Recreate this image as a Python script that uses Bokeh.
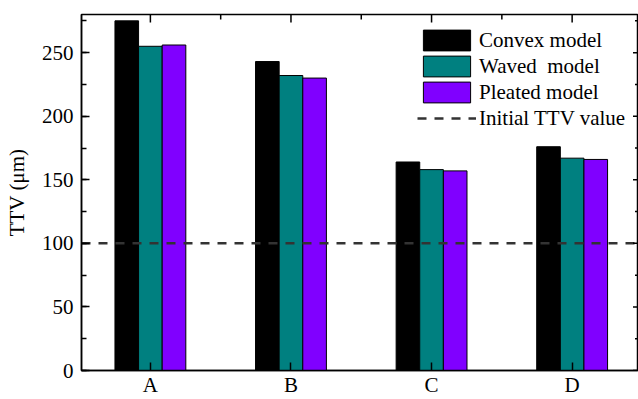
import numpy as np
from bokeh.plotting import figure
from bokeh.models import (Range1d, FixedTicker, SingleIntervalTicker, Legend, LegendItem)
from bokeh.embed import file_html
from bokeh.resources import INLINE

categories = ["A", "B", "C", "D"]
series_names = ["Convex model", "Waved  model", "Pleated model"]
convex = [275, 243, 164, 176]
waved = [255, 232, 158, 167]
pleated = [256, 230, 157, 166]
initial_ttv = 100
line_name = "Initial TTV value"
y_label = "TTV (\u03bcm)"
y_ticks = [0, 50, 100, 150, 200, 250]
colors = ["#000000", "#008080", "#8000ff"]

FONT = "Liberation Serif"
FS = "21px"

xs = np.arange(len(categories))
bar_w = 0.168
offsets = [-bar_w, 0.0, bar_w]
x_start, x_end = -0.49, 3.472
y_start, y_end = 0, 280

p = figure(width=638, height=399, output_backend="svg", toolbar_location=None,
           x_range=Range1d(x_start, x_end), y_range=Range1d(y_start, y_end),
           min_border_left=81, min_border_right=0, min_border_top=14,
           min_border_bottom=28)
p.xgrid.visible = False
p.ygrid.visible = False
p.outline_line_color = "black"
p.outline_line_width = 1.5
p.background_fill_color = "white"
p.border_fill_color = "white"

# bars
renderers = []
for vals, col, off in zip([convex, waved, pleated], colors, offsets):
    r = p.vbar(x=xs + off, top=vals, width=bar_w, fill_color=col,
               line_color="black", line_width=1)
    renderers.append(r)

# initial TTV reference line across the frame
ref_line = p.line(x=[x_start, x_end], y=[initial_ttv, initial_ttv],
                  line_color="#333333", line_width=2.5, line_dash="9 8")

# tick marks on top and right frame edges (inward)
minor_x = list(xs[:-1] + 0.5)
p.scatter(x=list(xs), y=[y_end] * len(xs), marker="dash", angle=np.pi / 2,
          size=16, line_color="black", line_width=1.5)
p.scatter(x=minor_x, y=[y_end] * len(minor_x), marker="dash", angle=np.pi / 2,
          size=10, line_color="black", line_width=1.5)
minor_y = [t + 25 for t in y_ticks]
p.scatter(x=[x_end] * len(y_ticks), y=y_ticks, marker="dash",
          size=11, line_color="black", line_width=1.5)
p.scatter(x=[x_end] * len(minor_y), y=minor_y, marker="dash",
          size=7, line_color="black", line_width=1.5)

# axes styling
def style_axis(ax):
    ax.axis_line_color = "black"
    ax.axis_line_width = 1.5
    ax.major_tick_line_color = "black"
    ax.minor_tick_line_color = "black"
    ax.major_tick_line_width = 1.5
    ax.minor_tick_line_width = 1.5
    ax.major_tick_in = 8
    ax.major_tick_out = 0
    ax.minor_tick_in = 5
    ax.minor_tick_out = 0
    ax.major_label_text_font = FONT
    ax.major_label_text_font_size = FS
    ax.major_label_text_color = "black"

xa = p.xaxis[0]
style_axis(xa)
xa.ticker = FixedTicker(ticks=list(xs), minor_ticks=[])
xa.major_label_overrides = {int(i): c for i, c in zip(xs, categories)}
xa.major_label_standoff = 2

ya = p.yaxis[0]
style_axis(ya)
ya.ticker = SingleIntervalTicker(interval=50, num_minor_ticks=2)
ya.major_label_standoff = 8
ya.axis_label = y_label
ya.axis_label_text_font = FONT
ya.axis_label_text_font_size = FS
ya.axis_label_text_font_style = "normal"
ya.axis_label_text_color = "black"
ya.axis_label_standoff = 10

items = [LegendItem(label=n, renderers=[r]) for n, r in zip(series_names, renderers)]
items.append(LegendItem(label=line_name, renderers=[ref_line]))
legend = Legend(items=items, location=(336, 239), glyph_width=59, glyph_height=26,
                label_height=20, spacing=0, padding=0, margin=0, label_standoff=3,
                label_text_font=FONT, label_text_font_size=FS,
                label_text_color="black",
                border_line_color=None, background_fill_alpha=0)
p.add_layout(legend)

open("out.html", "w").write(file_html(p, INLINE))
